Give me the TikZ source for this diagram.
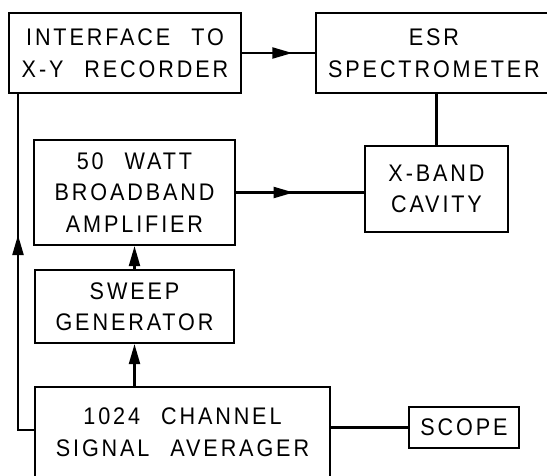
\documentclass[tikz,border=0pt]{standalone}
\usepackage{fontspec}
\setmainfont{Liberation Sans}[LetterSpace=12,FakeStretch=0.9]
\usetikzlibrary{arrows.meta,calc}
\newcommand\wgap{\hspace{21pt}}
\begin{document}
\begin{tikzpicture}[x=1pt,y=-1pt,
  blk/.style={draw,line width=2.2pt,align=center,inner sep=0pt,
    font=\fontsize{24}{31.5}\selectfont},
  wire/.style={line width=2.2pt},
  tip/.style={line width=2.2pt,-{Triangle[length=20pt,width=11pt]}}]
\useasboundingbox (0,0) rectangle (547,475);
\clip (0,0) rectangle (547,475);
\node[blk,minimum width=232pt,minimum height=80pt] (iface) at (125,53) {INTERFACE\wgap TO\\X-Y\wgap RECORDER};
\node[blk,minimum width=236pt,minimum height=80pt] (esr) at (434,53) {ESR\\SPECTROMETER};
\node[blk,minimum width=143pt,minimum height=86pt] (xband) at (436.5,189) {X-BAND\\CAVITY};
\node[blk,minimum width=201pt,minimum height=105pt] (amp) at (134.5,192.5) {50\wgap WATT\\BROADBAND\\AMPLIFIER};
\node[blk,minimum width=199pt,minimum height=73pt] (sweep) at (134.5,306.5) {SWEEP\\GENERATOR};
\node[blk,minimum width=295pt,minimum height=90pt] (avg) at (182.5,432) {1024\wgap CHANNEL\\SIGNAL\wgap AVERAGER};
\node[blk,minimum width=110pt,minimum height=41pt] (scope) at (464,427.5) {SCOPE};
% interface -> ESR
\draw[wire] (iface.east) -- (esr.west);
\draw[tip] (iface.east) -- ($(iface.east)!0.69!(esr.west)$);
% amp -> x-band
\draw[wire] (amp.east) -- (amp.east -| xband.west);
\draw[tip] (amp.east) -- ($(amp.east)!0.45!(amp.east -| xband.west)$);
% ESR -- x-band
\draw[wire] (xband.north |- esr.south) -- (xband.north);
% sweep -> amp
\draw[tip] (sweep.north) -- (amp.south);
% averager -> sweep
\draw[tip] (sweep.south |- avg.north) -- (sweep.south);
% averager -- scope
\draw[wire] (avg.east |- scope.west) -- (scope.west);
% averager -> interface (left loop)
\coordinate (lc) at (18,430);
\coordinate (lt) at (18,235);
\draw[wire] (avg.west |- lc) -- (lc) -- (lc |- iface.south);
\draw[tip] (lc) -- (lt);
\end{tikzpicture}
\end{document}
